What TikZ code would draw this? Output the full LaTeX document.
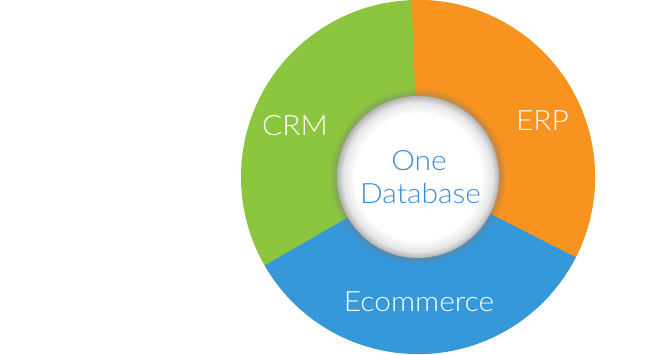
\documentclass[tikz,border=0pt]{standalone}
\usepackage{fontspec}
\setmainfont{Lato Light}[FakeStretch=1.07]
\definecolor{crmgreen}{HTML}{8CC63F}
\definecolor{erporange}{HTML}{F7931E}
\definecolor{ecomblue}{HTML}{3498DB}
\definecolor{dbblue}{HTML}{3A8EDC}
\pgfdeclareradialshading{dbshade}{\pgfpointorigin}{color(0bp)=(white); color(19.5bp)=(white); color(23bp)=(white!90!black); color(25bp)=(white!70!black); color(50bp)=(white!70!black)}
\tikzset{
  seglabel/.style={text=white, font=\fontsize{28}{28}\selectfont, inner sep=0pt, anchor=base},
  dblabel/.style={text=dbblue, font=\fontsize{28}{28}\selectfont, inner sep=0pt, anchor=base},
}
\begin{document}
\begin{tikzpicture}[x=1pt,y=1pt]
\useasboundingbox (0,0) rectangle (660,354);
\coordinate (c) at (418,177);
\def\R{177}
% segments
\fill[crmgreen] (c) circle[radius=\R];
\fill[erporange] (c) -- ++(-28:\R) arc[start angle=-28, end angle=92, radius=\R] -- cycle;
\fill[ecomblue] (c) -- ++(210:\R) arc[start angle=210, end angle=333, radius=\R] -- cycle;
% outer soft shadow
\foreach \r in {88,87,...,81}{
  \fill[gray, opacity=0.07] (c) circle[radius=\r];
}
% centre disc
\shade[shading=dbshade] (c) circle[radius=81];
% labels
\node[seglabel] (crm) at (295,219) {CRM};
\node[seglabel] (erp) at (542.5,224) {ERP};
\node[seglabel] (ecom) at (419,43) {Ecommerce};
\node[dblabel] (one) at (419,184) {One};
\node[dblabel] (db) at (420.5,151) {Database};
\end{tikzpicture}
\end{document}
